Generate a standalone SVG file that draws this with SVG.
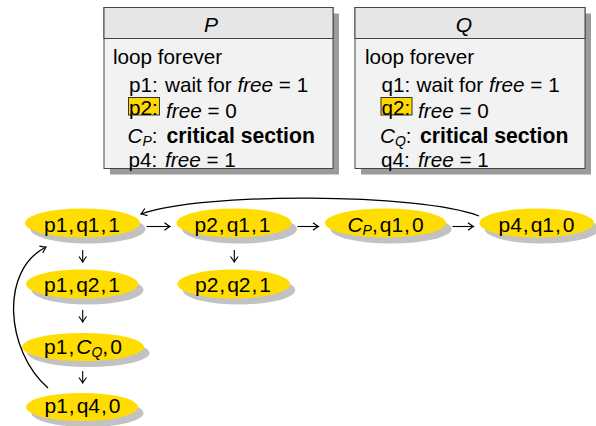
<svg xmlns="http://www.w3.org/2000/svg" width="596" height="426" viewBox="0 0 596 426">
<defs>
<marker id="ah" viewBox="-7 -5 8 10" markerWidth="8" markerHeight="10" refX="0" refY="0" orient="auto" markerUnits="userSpaceOnUse">
<path d="M-5.5,-3.8 Q-1.5,-0.8 0,0 Q-1.5,0.8 -5.5,3.8" fill="none" stroke="#000" stroke-width="1.2"/>
</marker>
</defs>
<style>
text{font-family:"Liberation Sans",Arial,sans-serif;fill:#000}
.bx{font-size:20.7px}
.nd{font-size:21px}
.hd{font-size:21px;font-style:italic}
.it{font-style:italic}
.b{font-weight:bold;font-size:21.2px}
.shadow{fill:#9b9b9b}
.body{fill:#f2f2f2;stroke:#444;stroke-width:1}
.head{fill:#e6e6e6;stroke:#444;stroke-width:1}
.hl{fill:#ffd800;stroke:#333;stroke-width:1}
.nsh{fill:#c2c2c2}
.nf{fill:#ffdd00}
.c{fill:none;stroke:#000;stroke-width:1.3}
.s{fill:none;stroke:#000;stroke-width:1.1}
</style>

<g id="boxP">
<rect class="shadow" x="110" y="13.5" width="229" height="161"/>
<rect class="body" x="104" y="7.5" width="229" height="161"/>
<rect class="head" x="104" y="7.5" width="229" height="31"/>
<text class="hd" x="211" y="31.5" text-anchor="middle">P</text>
<text class="bx" x="113" y="64">loop forever</text>
<text class="bx" x="129" y="91.5">p1:</text>
<text class="bx" x="165" y="91.5">wait for <tspan class="it">free</tspan> = 1</text>
<rect class="hl" x="128.5" y="97.5" width="31" height="17.5"/>
<text class="bx" x="129" y="114.5">p2:</text>
<text class="bx" x="166" y="117.5"><tspan class="it">free</tspan> = 0</text>
<text class="bx" x="127.5" y="142.5"><tspan class="it">C</tspan><tspan class="it" font-size="14" dy="3">P</tspan><tspan dy="-3">:</tspan></text>
<text class="bx b" x="166.5" y="142.5">critical section</text>
<text class="bx" x="128.5" y="166.5">p4:</text>
<text class="bx" x="165" y="166.5"><tspan class="it">free</tspan> = 1</text>
</g>

<g id="boxQ">
<rect class="shadow" x="361" y="13.5" width="230" height="161"/>
<rect class="body" x="355" y="7.5" width="230" height="161"/>
<rect class="head" x="355" y="7.5" width="230" height="31"/>
<text class="hd" x="464" y="31.5" text-anchor="middle">Q</text>
<text class="bx" x="365" y="64">loop forever</text>
<text class="bx" x="381.5" y="91.5">q1:</text>
<text class="bx" x="416.5" y="91.5">wait for <tspan class="it">free</tspan> = 1</text>
<rect class="hl" x="381" y="97.5" width="31" height="17.5"/>
<text class="bx" x="381.5" y="114.5">q2:</text>
<text class="bx" x="418" y="117.5"><tspan class="it">free</tspan> = 0</text>
<text class="bx" x="380" y="142.5"><tspan class="it">C</tspan><tspan class="it" font-size="14" dy="3">Q</tspan><tspan dy="-3">:</tspan></text>
<text class="bx b" x="420" y="142.5">critical section</text>
<text class="bx" x="381" y="166.5">q4:</text>
<text class="bx" x="418" y="166.5"><tspan class="it">free</tspan> = 1</text>
</g>

<g id="connectors">
<path class="s" d="M146.5,226.5 H170" marker-end="url(#ah)"/>
<path class="s" d="M297.5,226.5 H318.5" marker-end="url(#ah)"/>
<path class="s" d="M452.5,226.5 H473.5" marker-end="url(#ah)"/>
<path class="s" d="M82.7,250 V262" marker-end="url(#ah)"/>
<path class="s" d="M234.3,250 V262" marker-end="url(#ah)"/>
<path class="s" d="M82.7,310 V322" marker-end="url(#ah)"/>
<path class="s" d="M82.7,371 V383" marker-end="url(#ah)"/>
<path class="c" d="M479,216 C420,193 200,192 141,214" marker-end="url(#ah)"/>
<path class="c" d="M48,388 C5,350 0,270 46,247" marker-end="url(#ah)"/>
</g>

<g id="n_p1q11">
<ellipse class="nsh" cx="88" cy="229" rx="57.5" ry="14.5"/>
<ellipse class="nf" cx="82.5" cy="223" rx="57.5" ry="14.5"/>
<text class="nd" x="82" y="232" text-anchor="middle">p1<tspan dx="1">,</tspan><tspan dx="2">q1</tspan><tspan dx="1">,</tspan><tspan dx="2">1</tspan></text>
</g>
<g id="n_p2q11">
<ellipse class="nsh" cx="239.5" cy="229" rx="57.5" ry="14.5"/>
<ellipse class="nf" cx="234" cy="223" rx="57.5" ry="14.5"/>
<text class="nd" x="232.5" y="232" text-anchor="middle">p2<tspan dx="1">,</tspan><tspan dx="2">q1</tspan><tspan dx="1">,</tspan><tspan dx="2">1</tspan></text>
</g>
<g id="n_cpq10">
<ellipse class="nsh" cx="391" cy="229" rx="60.5" ry="14.5"/>
<ellipse class="nf" cx="385.5" cy="223" rx="60.5" ry="14.5"/>
<text class="nd" x="385.5" y="232" text-anchor="middle"><tspan class="it">C</tspan><tspan class="it" font-size="14" dy="3">P</tspan><tspan dy="-3">,</tspan><tspan dx="2">q1</tspan><tspan dx="1">,</tspan><tspan dx="2">0</tspan></text>
</g>
<g id="n_p4q10">
<ellipse class="nsh" cx="542" cy="229" rx="57.3" ry="14.5"/>
<ellipse class="nf" cx="536.7" cy="223" rx="57.3" ry="14.5"/>
<text class="nd" x="536.5" y="232" text-anchor="middle">p4<tspan dx="1">,</tspan><tspan dx="2">q1</tspan><tspan dx="1">,</tspan><tspan dx="2">0</tspan></text>
</g>
<g id="n_p1q21">
<ellipse class="nsh" cx="87.5" cy="290" rx="56" ry="14.5"/>
<ellipse class="nf" cx="82" cy="284" rx="56" ry="14.5"/>
<text class="nd" x="82" y="291.5" text-anchor="middle">p1<tspan dx="1">,</tspan><tspan dx="2">q2</tspan><tspan dx="1">,</tspan><tspan dx="2">1</tspan></text>
</g>
<g id="n_p2q21">
<ellipse class="nsh" cx="239" cy="290" rx="56.3" ry="14.5"/>
<ellipse class="nf" cx="233.7" cy="284" rx="56.3" ry="14.5"/>
<text class="nd" x="233" y="291.5" text-anchor="middle">p2<tspan dx="1">,</tspan><tspan dx="2">q2</tspan><tspan dx="1">,</tspan><tspan dx="2">1</tspan></text>
</g>
<g id="n_p1cq0">
<ellipse class="nsh" cx="88.5" cy="353" rx="61" ry="14"/>
<ellipse class="nf" cx="83" cy="347" rx="61" ry="14"/>
<text class="nd" x="83" y="353.5" text-anchor="middle">p1<tspan dx="1">,</tspan><tspan dx="2" class="it">C</tspan><tspan class="it" font-size="14" dy="3">Q</tspan><tspan dy="-3">,</tspan><tspan dx="2">0</tspan></text>
</g>
<g id="n_p1q40">
<ellipse class="nsh" cx="87.5" cy="413" rx="56" ry="14"/>
<ellipse class="nf" cx="82" cy="407" rx="56" ry="14"/>
<text class="nd" x="82.5" y="413" text-anchor="middle">p1<tspan dx="1">,</tspan><tspan dx="2">q4</tspan><tspan dx="1">,</tspan><tspan dx="2">0</tspan></text>
</g>
</svg>
